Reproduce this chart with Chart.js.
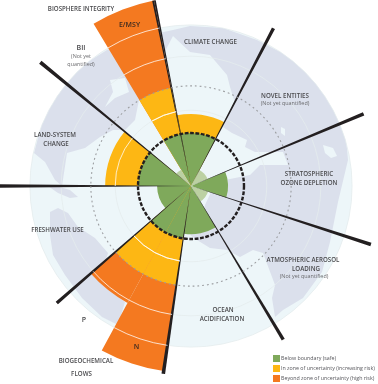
<!DOCTYPE html>
<html>
<head>
<meta charset="utf-8">
<title>Planetary boundaries</title>
<script src="https://cdn.jsdelivr.net/npm/chart.js@4"></script>
<style>
    html, body { margin: 0; padding: 0; background: #fff; }
    #wrap { position: relative; width: 378px; height: 384px; overflow: hidden; font-family: "Open Sans", sans-serif; }
    #chart { position: absolute; left: -9px; top: -14px; }
    .lbl { position: absolute; transform: translate(-50%, -50%); white-space: nowrap; color: #4a4a4d; font-size: 6.2px; font-weight: 600; line-height: 1; }
    .lbl.note { font-size: 5.4px; font-weight: 400; color: #6a6a6d; }
    .lbl.big { font-size: 7px; }
    .lbl.dark { font-size: 7px; color: #3b2a20; }
    .key { position: absolute; left: 272.5px; width: 7px; height: 7px; }
    .keytxt { position: absolute; left: 281px; white-space: nowrap; color: #55555a; font-size: 5.3px; line-height: 7px; }
</style>
</head>
<body>
<div id="wrap">
    <canvas id="chart" width="400" height="400"></canvas>
</div>
<script>
    'use strict';

    // ========== DATA (1 = the safe boundary) ==========
    const categories = ['Climate change', 'Novel entities', 'Stratospheric ozone depletion',
        'Atmospheric aerosol loading', 'Ocean acidification', 'Biogeochemical flows N',
        'Biogeochemical flows P', 'Freshwater use', 'Land-system change',
        'Biosphere integrity BII', 'Biosphere integrity E/MSY'];
    const sweepDeg = [38.9, 39.7, 40.7, 41, 39.4, 20.1, 20.4, 41.1, 39.4, 19.6, 19.7];
    const belowBoundary = [1, null, 0.7, null, 0.91, 1, 1, 0.64, 1, null, 1];
    const notQuantified = [null, 0.34, null, 0.34, null, null, null, null, null, 0.36, null];
    const uncertaintyZone = [1.36, null, null, null, null, 1.89, 1.89, null, 1.62, null, 1.89];
    const beyondZone = [null, null, null, null, null, 3.53, 2.51, null, null, null, 3.57];
    const spokeLengths = [3.57, 3.36, 3.53, 3.57, 3.38, 3.58, 3.36, 3.62, 3.68];
    const spokeSweeps = [38.9, 39.7, 40.7, 41, 39.4, 40.5, 41.1, 39.4, 39.3];
    const ringValues = [1.43, 2.45, 3.04];
    const safeZoneValue = 1.89;

    const legendLabels = ['Below boundary (safe)', 'In zone of uncertainty (increasing risk)',
        'Beyond zone of uncertainty (high risk)'];
    const legendColors = ['#7fa95b', '#fdb714', '#f47920'];

    // text, x, y, class
    const textLabels = [
        ['BIOSPHERE INTEGRITY', 81, 8.5, ''],
        ['BII', 81, 47, 'big'],
        ['(Not yet', 81, 57, 'note'],
        ['quantified)', 81, 65, 'note'],
        ['E/MSY', 129.5, 24, 'dark'],
        ['CLIMATE CHANGE', 210.5, 42, ''],
        ['NOVEL ENTITIES', 285, 96, ''],
        ['(Not yet quantified)', 285, 104, 'note'],
        ['STRATOSPHERIC', 309, 173.5, ''],
        ['OZONE DEPLETION', 309, 182.5, ''],
        ['LAND-SYSTEM', 55, 134.5, ''],
        ['CHANGE', 56, 143.5, ''],
        ['FRESHWATER USE', 57.5, 229.5, ''],
        ['ATMOSPHERIC AEROSOL', 303, 260, ''],
        ['LOADING', 306, 268.5, ''],
        ['(Not yet quantified)', 304, 277, 'note'],
        ['OCEAN', 223, 310, ''],
        ['ACIDIFICATION', 222, 319, ''],
        ['P', 84, 319, 'big'],
        ['N', 136.5, 346, 'dark'],
        ['BIOGEOCHEMICAL', 86, 361, ''],
        ['FLOWS', 81.5, 374, '']
    ];

    // ========== BACKGROUND MAP (page pixels, decoration only) ==========
    const canvasLeft = -9, canvasTop = -14;
    const landShapes = [
        // North America
        [[173, 30], [140, 37], [107, 50], [75, 70], [55, 93], [42, 123], [34, 153], [45, 162], [55, 180], [62, 186],
         [67, 153], [85, 148], [100, 137], [113, 130], [125, 130], [135, 120], [139, 100], [150, 80], [173, 36]],
        // Eurasia and Africa
        [[173, 30], [190, 26], [223, 28], [257, 40], [290, 57], [323, 87], [345, 127], [348, 160], [338, 202], [330, 242],
         [322, 272], [303, 298], [283, 310], [275, 317], [272, 298], [275, 285], [263, 253], [253, 250], [240, 257],
         [227, 250], [210, 248], [197, 240], [190, 235], [200, 225], [205, 205], [212, 190], [225, 180], [250, 175],
         [260, 165], [288, 165], [283, 152], [255, 152], [245, 147], [247, 140], [232, 133], [223, 127], [227, 117],
         [235, 103], [230, 87], [227, 75], [210, 55], [190, 52], [173, 36]],
        // South America
        [[50, 212], [58, 208], [68, 213], [78, 227], [95, 238], [108, 253], [105, 263], [93, 273], [125, 302], [118, 325],
         [102, 317], [82, 298], [65, 275], [53, 255], [50, 235]],
        // Central America
        [[48, 186], [60, 187], [70, 190], [78, 197], [70, 198], [58, 193]]
    ];
    const seaShapes = [
        [[110, 80], [125, 78], [129, 92], [115, 98], [105, 107], [113, 92]],
        [[323, 145], [333, 148], [337, 156], [331, 158], [325, 153]],
        [[207, 63], [215, 64], [213, 69], [208, 68]],
        [[281, 127], [285, 129], [285, 136], [281, 133]]
    ];

    function fillShape(ctx, shape) {
        ctx.beginPath();
        shape.forEach((p, i) => {
            if (i === 0) ctx.moveTo(p[0] - canvasLeft, p[1] - canvasTop);
            else ctx.lineTo(p[0] - canvasLeft, p[1] - canvasTop);
        });
        ctx.closePath();
        ctx.fill();
    }

    const backdrop = {
        id: 'backdrop',
        beforeDatasetsDraw(chart) {
            const ctx = chart.ctx, r = chart.scales.r;
            const dist = v => r.getDistanceFromCenterForValue(v);
            ctx.save();
            ctx.beginPath();
            ctx.arc(r.xCenter, r.yCenter, dist(ringValues[2]), 0, Math.PI * 2);
            ctx.fillStyle = '#edf6f9';
            ctx.fill();
            ctx.clip();
            ctx.fillStyle = '#dbe0ec';
            landShapes.forEach(s => fillShape(ctx, s));
            ctx.fillStyle = '#edf6f9';
            seaShapes.forEach(s => fillShape(ctx, s));
            ctx.restore();

            ctx.save();
            ctx.strokeStyle = '#e4ecee';
            ctx.lineWidth = 0.8;
            ringValues.forEach(v => {
                ctx.beginPath();
                ctx.arc(r.xCenter, r.yCenter, dist(v), 0, Math.PI * 2);
                ctx.stroke();
            });
            ctx.restore();
        },
        afterDatasetsDraw(chart) {
            const ctx = chart.ctx, r = chart.scales.r;
            const dist = v => r.getDistanceFromCenterForValue(v);
            ctx.save();
            // white rings where they cross the coloured wedges
            ctx.strokeStyle = 'rgba(255,255,255,0.85)';
            ctx.lineWidth = 0.9;
            [3, 4].forEach(di => {
                chart.getDatasetMeta(di).data.forEach(arc => {
                    ringValues.forEach(v => {
                        // empty slices have a NaN radius
                        if (!(arc.outerRadius > dist(v) + 1)) return;
                        ctx.beginPath();
                        ctx.arc(r.xCenter, r.yCenter, dist(v), arc.startAngle, arc.endAngle);
                        ctx.stroke();
                    });
                });
            });
            // dotted safe-zone ring
            ctx.strokeStyle = '#9b9da0';
            ctx.lineWidth = 1.1;
            ctx.setLineDash([1.8, 3]);
            ctx.beginPath();
            ctx.arc(r.xCenter, r.yCenter, dist(safeZoneValue), 0, Math.PI * 2);
            ctx.stroke();
            // dashed boundary ring
            ctx.strokeStyle = '#231f20';
            ctx.lineWidth = 2.4;
            ctx.setLineDash([3.8, 1.6]);
            ctx.beginPath();
            ctx.arc(r.xCenter, r.yCenter, dist(1), 0, Math.PI * 2);
            ctx.stroke();
            ctx.restore();
        }
    };

    // spokes are very narrow arcs, so they taper towards the centre like the original
    const spokeWidth = 1.1;
    const spokeData = [spokeLengths[0]], spokeAngles = [spokeWidth / 2];
    spokeSweeps.forEach((sweep, i) => {
        spokeData.push(null);
        spokeAngles.push(sweep - spokeWidth);
        spokeData.push(spokeLengths[(i + 1) % spokeLengths.length]);
        spokeAngles.push(i === spokeSweeps.length - 1 ? spokeWidth / 2 : spokeWidth);
    });

    function wedgeSet(label, data, color) {
        return {
            label: label,
            data: data,
            backgroundColor: color,
            borderWidth: 0,
            angle: ctx => sweepDeg[ctx.dataIndex]
        };
    }

    new Chart(document.getElementById('chart'), {
        type: 'polarArea',
        data: {
            labels: categories,
            datasets: [
                {
                    label: 'Spokes',
                    data: spokeData,
                    backgroundColor: '#231f20',
                    borderWidth: 0,
                    angle: ctx => spokeAngles[ctx.dataIndex]
                },
                wedgeSet('Not yet quantified', notQuantified, '#bcd1a3'),
                wedgeSet(legendLabels[0], belowBoundary, legendColors[0]),
                wedgeSet(legendLabels[1], uncertaintyZone, legendColors[1]),
                wedgeSet(legendLabels[2], beyondZone, legendColors[2])
            ]
        },
        options: {
            responsive: false,
            animation: false,
            plugins: { legend: { display: false }, tooltip: { enabled: false } },
            layout: { padding: 0 },
            scales: {
                r: {
                    min: 0,
                    max: 3.774,
                    startAngle: -11.3,
                    grid: { display: false },
                    angleLines: { display: false },
                    ticks: { display: false },
                    pointLabels: { display: false }
                }
            }
        },
        plugins: [backdrop]
    });

    // ========== TEXT ==========
    const wrap = document.getElementById('wrap');
    textLabels.forEach(t => {
        const el = document.createElement('div');
        el.className = 'lbl ' + t[3];
        el.textContent = t[0];
        el.style.left = t[1] + 'px';
        el.style.top = t[2] + 'px';
        wrap.appendChild(el);
    });
    legendLabels.forEach((txt, i) => {
        const top = 355.2 + i * 10.1;
        const key = document.createElement('div');
        key.className = 'key';
        key.style.top = top + 'px';
        key.style.background = legendColors[i];
        wrap.appendChild(key);
        const el = document.createElement('div');
        el.className = 'keytxt';
        el.style.top = top + 'px';
        el.textContent = txt;
        wrap.appendChild(el);
    });
</script>
</body>
</html>
